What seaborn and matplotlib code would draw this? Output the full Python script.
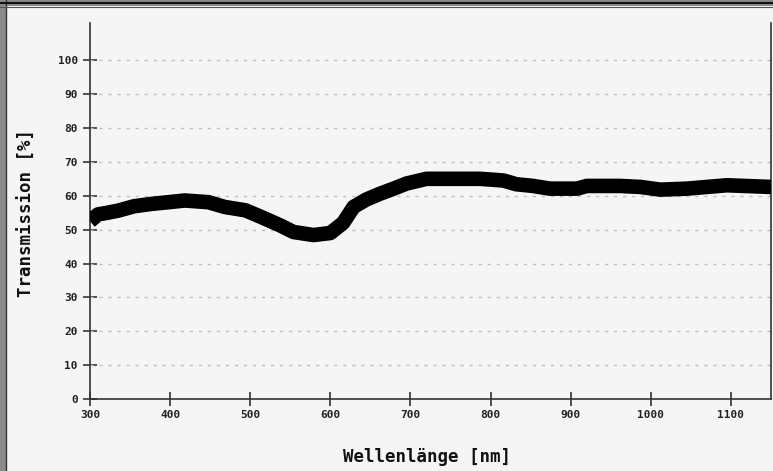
import matplotlib
matplotlib.use("Agg")
import matplotlib.pyplot as plt
from matplotlib.patches import Rectangle
from matplotlib.lines import Line2D
import seaborn as sns
import pandas as pd

# data
wavelength = [300, 310, 320, 335, 355, 377, 398, 418, 448, 468, 494, 514, 537, 554,
              579, 600, 616, 629, 645, 662, 679, 695, 720, 787, 816, 832, 853, 874,
              908, 920, 962, 987, 1012, 1045, 1095, 1150]
transmission = [52.5, 54.5, 54.9, 55.6, 56.9, 57.6, 58.1, 58.6, 58.1, 56.7, 55.7, 53.7,
                51.3, 49.3, 48.4, 49.0, 52.0, 56.7, 58.9, 60.6, 62.1, 63.6, 65.0, 65.0,
                64.5, 63.4, 62.9, 62.1, 62.1, 62.9, 62.9, 62.6, 61.8, 62.1, 63.1, 62.6]
x_ticks = [300, 400, 500, 600, 700, 800, 900, 1000, 1100]
y_ticks = [0, 10, 20, 30, 40, 50, 60, 70, 80, 90, 100]
x_label = "Wellenlänge [nm]"
y_label = "Transmission [%]"

df = pd.DataFrame({"wl": wavelength, "t": transmission})

sns.set_theme(style="white")
plt.rcParams['font.family'] = ['DejaVu Sans Mono', 'DejaVu Sans']

W, H = 773, 471
fig = plt.figure(figsize=(W / 100, H / 100), dpi=100, facecolor="#f5f5f5")
ax = fig.add_axes([90 / W, (H - 399) / H, (771 - 90) / W, (399 - 23) / H])
ax.set_facecolor("#f5f5f5")

sns.lineplot(data=df, x="wl", y="t", ax=ax, color="#87ceeb", lw=1.2, zorder=2)
sns.lineplot(data=df, x="wl", y="t", ax=ax, color="black", lw=10.5,
             solid_capstyle="butt", solid_joinstyle="round", zorder=3)

ax.set_xlim(300, 1150)
ax.set_ylim(0, 111)
ax.set_xticks(x_ticks)
ax.set_yticks(y_ticks)
ax.set_xticklabels([str(v) for v in x_ticks], fontsize=8, fontweight="bold", color="#222222")
ax.set_yticklabels([str(v) for v in y_ticks], fontsize=8, fontweight="bold", color="#222222")
ax.tick_params(axis="x", bottom=True, direction="inout", length=10, width=1.2,
               color="#333333", pad=3)
ax.tick_params(axis="y", left=True, direction="inout", length=10.5, width=1.2,
               color="#333333", pad=3.5)

for yv in y_ticks[1:]:
    ax.axhline(yv, color="#bdbdbd", lw=1, ls=(0, (2.2, 4.3)), zorder=1)

for s in ["left", "bottom", "right"]:
    ax.spines[s].set_color("#333333")
    ax.spines[s].set_linewidth(1.2)
ax.spines["top"].set_visible(False)

ax.set_xlabel("")
ax.set_ylabel("")
fig.text(427 / W, 1 - 457 / H, x_label, ha="center", va="center",
         fontsize=12.5, fontweight="bold", color="#111111")
fig.text(27 / W, 1 - 213 / H, y_label, ha="center", va="center", rotation=90,
         fontsize=12.5, fontweight="bold", color="#111111")

# window frame
fig.patches.append(Rectangle((0, 0), 6 / W, 1, transform=fig.transFigure,
                             facecolor="#8a8a8a", edgecolor="none", zorder=0))
fig.add_artist(Line2D([6.5 / W, 6.5 / W], [0, 1], transform=fig.transFigure,
                      color="#333333", lw=1))
fig.patches.append(Rectangle((0, 1 - 6 / H), 1, 6 / H, transform=fig.transFigure,
                             facecolor="#8a8a8a", edgecolor="none", zorder=0))
fig.add_artist(Line2D([0, 1], [1 - 2.5 / H, 1 - 2.5 / H], transform=fig.transFigure,
                      color="#111111", lw=1.5))
fig.add_artist(Line2D([0, 1], [1 - 6.5 / H, 1 - 6.5 / H], transform=fig.transFigure,
                      color="#555555", lw=0.8))

fig.savefig("out.png", dpi=100, facecolor="#f5f5f5")
